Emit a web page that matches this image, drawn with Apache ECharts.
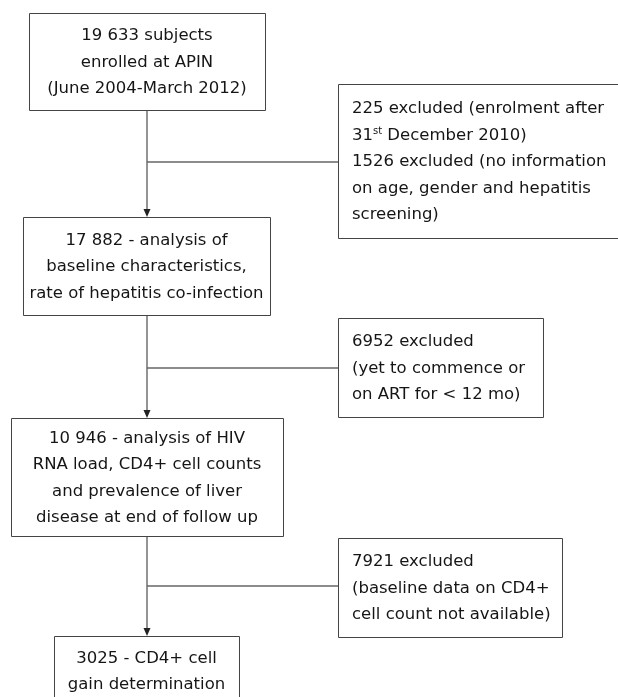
<!DOCTYPE html>
<html>
<head>
<meta charset="utf-8">
<script src="https://cdn.jsdelivr.net/npm/echarts@6/dist/echarts.min.js"></script>
<style>
  html, body { margin: 0; padding: 0; background: #fff; }
</style>
</head>
<body>
<div id="flow" style="width: 618px; height: 697px;"></div>
<script>
// counts at each step of the flow
const stageCounts = [19633, 17882, 10946, 3025];
const stageLabels = [
    'subjects\nenrolled at APIN\n(June 2004-March 2012)',
    ' - analysis of\nbaseline characteristics,\nrate of hepatitis co-infection',
    ' - analysis of HIV\nRNA load, CD4+ cell counts\nand prevalence of liver\ndisease at end of follow up',
    ' - CD4+ cell\ngain determination'
];
const excludedCounts = [[225, 1526], [6952], [7921]];
const excludedLabels = [
    [' excluded (enrolment after\n31{sup|st} December 2010)', ' excluded (no information\non age, gender and hepatitis\nscreening)'],
    [' excluded\n(yet to commence or\non ART for < 12 mo)'],
    [' excluded\n(baseline data on CD4+\ncell count not available)']
];

// layout (chart units = pixels of the 618 x 697 canvas)
const stageBoxes = [[29, 13, 265, 110], [23, 217, 270, 315], [11, 418, 283, 536], [54, 636, 239, 705]];
const excludedBoxes = [[338, 84, 640, 238], [338, 318, 543, 417], [338, 538, 562, 637]];
const trunkX = 147;
const branchY = [162, 368, 586];

function fmt(n) {
    const s = String(n);
    return n >= 10000 ? s.slice(0, s.length - 3) + ' ' + s.slice(-3) : s;
}

const stageTexts = stageCounts.map((c, i) => {
    const lab = stageLabels[i];
    return i === 0 ? fmt(c) + ' ' + lab : fmt(c) + lab;
});
const excludedTexts = excludedCounts.map((cs, i) => cs.map((c, j) => fmt(c) + excludedLabels[i][j]).join('\n'));

const FONT = '"DejaVu Sans", Verdana, sans-serif';
const TEXT_COLOR = '#151515';
const LINE_H = 26.5;

const boxData = stageBoxes.map((b, i) => ({ value: b, text: stageTexts[i], align: 'center' }))
    .concat(excludedBoxes.map((b, i) => ({ value: b, text: excludedTexts[i], align: 'left' })));

// connectors: trunk segments with arrows + side branches
const linkData = [];
for (let i = 0; i < stageBoxes.length - 1; i++) {
    linkData.push([trunkX, stageBoxes[i][3], trunkX, stageBoxes[i + 1][1], 1]);
    linkData.push([trunkX, branchY[i], excludedBoxes[i][0], branchY[i], 0]);
}

const option = {
    animation: false,
    grid: { left: 0, right: 0, top: 0, bottom: 0 },
    xAxis: { type: 'value', min: 0, max: 618, show: false },
    yAxis: { type: 'value', min: 0, max: 697, inverse: true, show: false },
    series: [
        {
            type: 'custom',
            clip: false,
            data: linkData,
            renderItem: function (params, api) {
                const p0 = api.coord([api.value(0), api.value(1)]);
                const p1 = api.coord([api.value(2), api.value(3)]);
                const arrow = api.value(4) === 1;
                const children = [{
                    type: 'line',
                    shape: { x1: p0[0], y1: p0[1], x2: p1[0], y2: arrow ? p1[1] - 4 : p1[1] },
                    style: { stroke: '#666', lineWidth: 1.4 }
                }];
                if (arrow) {
                    children.push({
                        type: 'polygon',
                        shape: { points: [[p1[0] - 3.5, p1[1] - 8], [p1[0] + 3.5, p1[1] - 8], [p1[0], p1[1]]] },
                        style: { fill: '#222' }
                    });
                }
                return { type: 'group', children: children };
            }
        },
        {
            type: 'custom',
            clip: false,
            data: boxData,
            renderItem: function (params, api) {
                const item = boxData[params.dataIndex];
                const a = api.coord([api.value(0), api.value(1)]);
                const b = api.coord([api.value(2), api.value(3)]);
                const cx = item.align === 'center' ? (a[0] + b[0]) / 2 : a[0] + 14;
                return {
                    type: 'group',
                    children: [
                        {
                            type: 'rect',
                            shape: { x: a[0] + 0.5, y: a[1] + 0.5, width: b[0] - a[0], height: b[1] - a[1] },
                            style: { fill: '#fff', stroke: '#444', lineWidth: 1 }
                        },
                        {
                            type: 'text',
                            x: cx,
                            y: (a[1] + b[1]) / 2 + 1,
                            style: {
                                text: item.text,
                                fontFamily: FONT,
                                fontSize: 16.5,
                                lineHeight: LINE_H,
                                fill: TEXT_COLOR,
                                align: item.align,
                                verticalAlign: 'middle',
                                rich: {
                                    sup: { fontSize: 10, fontFamily: FONT, fill: TEXT_COLOR, padding: [0, 0, 9, 0] }
                                }
                            }
                        }
                    ]
                };
            }
        }
    ]
};

let myChart = echarts.init(document.getElementById('flow'));
myChart.setOption(option);

window.onresize = function () {
    myChart.resize()
}
</script>
</body>
</html>
